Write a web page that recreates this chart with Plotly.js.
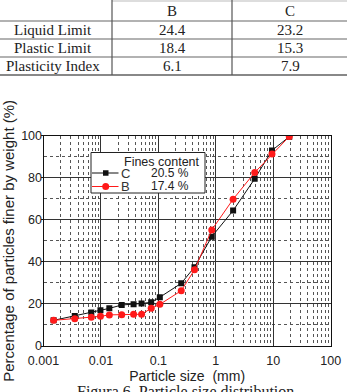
<!DOCTYPE html>
<html>
<head>
<meta charset="utf-8">
<script src="https://cdn.plot.ly/plotly-3.0.1.min.js"></script>
<style>
  html, body { margin: 0; padding: 0; background: #fff; }
  #chart { width: 347px; height: 392px; }
</style>
</head>
<body>
<div id="chart"></div>
<script>
// Atterberg limits table
const tableCols = ['B', 'C'];
const tableRows = ['Liquid Limit', 'Plastic Limit', 'Plasticity Index'];
const limitsB = [24.4, 18.4, 6.1];
const limitsC = [23.2, 15.3, 7.9];

// Grain size distribution (sieve + hydrometer)
const particleSize = [0.0015, 0.0035, 0.0068, 0.0098, 0.014, 0.023, 0.037, 0.051, 0.075, 0.106, 0.25, 0.425, 0.85, 2.0, 4.75, 9.5, 19.0];
const passingC = [12.2, 14.3, 15.9, 17.0, 17.9, 19.5, 19.8, 20.2, 20.8, 23.2, 29.8, 37.5, 52.0, 64.4, 79.5, 93.0, 99.5];
const passingB = [12.2, 13.0, 13.7, 14.1, 14.8, 14.9, 15.1, 15.1, 17.9, 19.8, 26.3, 36.2, 55.2, 69.8, 82.5, 91.3, 99.6];

// Legend: soil, fines content (%)
const soilNames = ['C', 'B'];
const finesContent = [20.5, 17.4];

const xTickVals = [0.001, 0.01, 0.1, 1, 10, 100];
const xTickText = ['0.001', '0.01', '0.1', '1', '10', '100'];

const W = 347, H = 392;
const px = v => v / W;
const py = v => 1 - v / H;

const colC = '#111111';
const colB = '#ff1a1a';

// minor log grid: 2..9 inside every decade
const minorX = [];
for (let d = -3; d < 2; d++) {
  for (let k = 2; k <= 9; k++) minorX.push(k * Math.pow(10, d));
}

const traces = [
  {
    x: particleSize, y: passingC, name: soilNames[0],
    mode: 'lines+markers', type: 'scatter',
    line: { color: colC, width: 1 },
    marker: { symbol: 'square', size: 6, color: colC }
  },
  {
    x: particleSize, y: passingB, name: soilNames[1],
    mode: 'lines+markers', type: 'scatter',
    line: { color: colB, width: 1 },
    marker: { symbol: 'circle', size: 7, color: colB }
  }
];

const shapes = [];
const annotations = [];
const pline = (x0, y0, x1, y1, color, width) => shapes.push({
  type: 'line', xref: 'paper', yref: 'paper',
  x0: px(x0), y0: py(y0), x1: px(x1), y1: py(y1),
  line: { color: color, width: width }
});
const ptext = (x, y, text, font, xanchor) => annotations.push({
  xref: 'paper', yref: 'paper', x: px(x), y: py(y), text: text,
  showarrow: false, xanchor: xanchor || 'center', yanchor: 'middle',
  borderpad: 0, font: font
});

// ---- table ----
pline(112, 1, W, 1, '#bbb', 1);
[21, 39, 57].forEach(y => pline(0, y, W, y, '#999', 1.3));
pline(0, 75, W, 75, '#888', 2);
pline(112, 0, 112, 75, '#555', 1.2);
pline(232, 0, 232, 75, '#555', 1.2);

const serif = { family: 'Liberation Serif, Times New Roman, serif', size: 15, color: '#222' };
ptext(172, 11, tableCols[0], serif);
ptext(290, 11, tableCols[1], serif);
const rowY = [30, 48, 66];
tableRows.forEach((r, i) => {
  ptext(53, rowY[i], r, serif);
  ptext(172, rowY[i], limitsB[i].toFixed(1), serif);
  ptext(290, rowY[i], limitsC[i].toFixed(1), serif);
});

// ---- caption ----
ptext(185, 392, 'Figura 6. Particle size distribution',
  { family: 'Liberation Serif, Times New Roman, serif', size: 16, color: '#222' });

// ---- legend box ----
const sans = { family: 'Liberation Sans, Arial, sans-serif', size: 12, color: '#222' };
shapes.push({
  type: 'rect', xref: 'paper', yref: 'paper',
  x0: px(91), y0: py(152.5), x1: px(205), y1: py(193),
  line: { color: '#222', width: 1 }, fillcolor: '#fff', layer: 'above'
});
ptext(201, 162, 'Fines content', { family: 'Liberation Sans, Arial, sans-serif', size: 12.5, color: '#222' }, 'right');
const entryY = [173, 186.5];
const entryCol = [colC, colB];
soilNames.forEach((n, i) => {
  const y = entryY[i];
  pline(92, y, 118.5, y, entryCol[i], 1);
  if (i === 0) {
    shapes.push({ type: 'rect', xref: 'paper', yref: 'paper', x0: px(103), x1: px(108.5), y0: py(y - 2.75), y1: py(y + 2.75),
      line: { width: 0 }, fillcolor: entryCol[i], layer: 'above' });
  } else {
    shapes.push({ type: 'circle', xref: 'paper', yref: 'paper', x0: px(102.2), x1: px(109.2), y0: py(y - 3.5), y1: py(y + 3.5),
      line: { width: 0 }, fillcolor: entryCol[i], layer: 'above' });
  }
  ptext(125, y, n, { family: 'Liberation Sans, Arial, sans-serif', size: 13, color: '#333' });
  ptext(150, y, finesContent[i].toFixed(1) + ' %', sans, 'left');
});

const layout = {
  width: W, height: H,
  margin: { l: 0, r: 0, t: 0, b: 0 },
  paper_bgcolor: '#fff', plot_bgcolor: '#fff',
  showlegend: false,
  font: sans,
  xaxis: {
    type: 'log', range: [-3, 2],
    domain: [px(43.5), px(330.7)],
    tickvals: xTickVals, ticktext: xTickText,
    ticks: '', tickfont: { family: 'Liberation Sans, Arial, sans-serif', size: 12.5, color: '#222' },
    ticklabelstandoff: 3,
    showline: true, linecolor: '#111', linewidth: 1, mirror: true,
    showgrid: true, gridcolor: '#333', gridwidth: 1,
    minor: { tickvals: minorX, showgrid: true, gridcolor: '#555', griddash: 'dot', gridwidth: 1, ticks: '' },
    zeroline: false, automargin: false,
    title: { text: 'Particle size  (mm)', font: { family: 'Liberation Sans, Arial, sans-serif', size: 14, color: '#222' }, standoff: 4 }
  },
  yaxis: {
    range: [0, 100],
    domain: [1 - 346 / H, 1 - 135.7 / H],
    dtick: 20, tick0: 0,
    ticks: 'outside', ticklen: 2, tickcolor: '#111',
    tickfont: { family: 'Liberation Sans, Arial, sans-serif', size: 12.5, color: '#222' },
    ticklabelstandoff: -4,
    showline: true, linecolor: '#111', linewidth: 1, mirror: true,
    showgrid: true, gridcolor: '#333', gridwidth: 1,
    minor: { dtick: 10, showgrid: true, gridcolor: '#555', griddash: 'dot', gridwidth: 1, ticks: '' },
    zeroline: false, automargin: false,
    title: { text: 'Percentage of particles finer by weight (%)', font: { family: 'Liberation Sans, Arial, sans-serif', size: 15, color: '#222' }, standoff: 4 }
  },
  shapes: shapes,
  annotations: annotations
};

Plotly.newPlot('chart', traces, layout, { staticPlot: true, displayModeBar: false });
</script>
</body>
</html>
